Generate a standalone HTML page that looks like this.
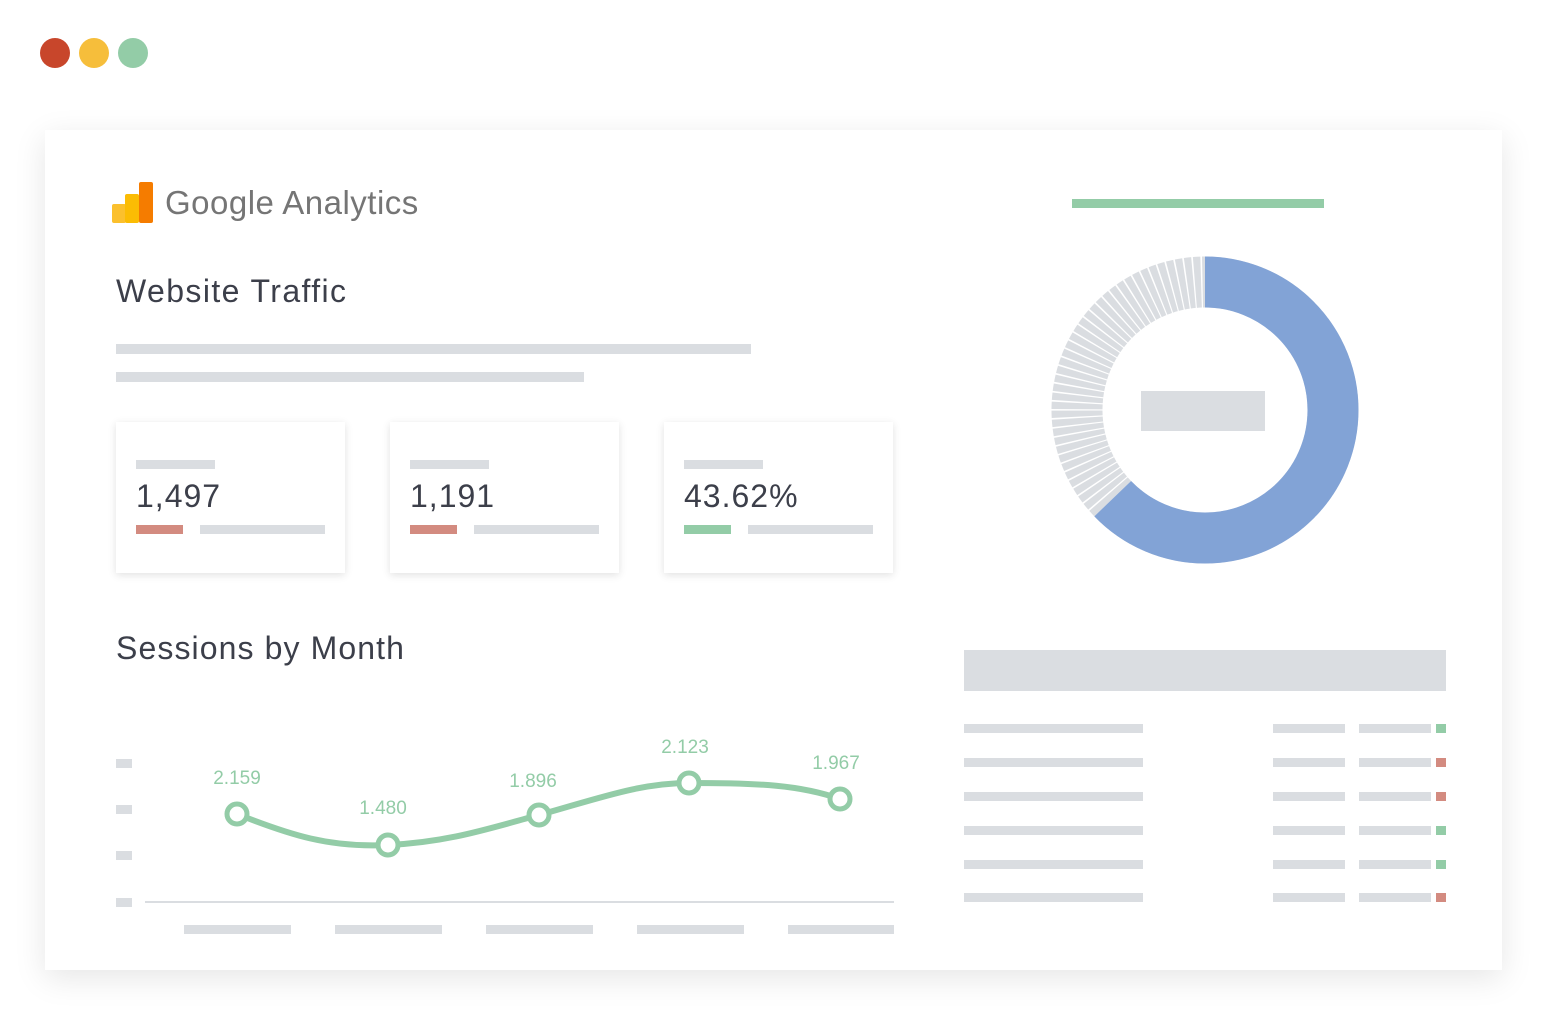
<!DOCTYPE html>
<html><head><meta charset="utf-8"><style>
body{margin:0;width:1548px;height:1025px;background:#fff;position:relative;overflow:hidden;font-family:"Liberation Sans",sans-serif}
.a{position:absolute}
.g{position:absolute;background:#dadde1}
.dot{position:absolute;width:30px;height:30px;border-radius:50%;top:38px}
.card{position:absolute;top:422px;width:229px;height:151px;background:#fff;box-shadow:0 2px 8px rgba(0,0,0,0.12)}
.card .n{position:absolute;left:20px;top:56px;font-size:32px;color:#3c3f4a;letter-spacing:1px}
</style></head><body>
<div class="dot" style="left:40px;background:#c8462b"></div>
<div class="dot" style="left:79px;background:#f6be3b"></div>
<div class="dot" style="left:118px;background:#93cca7"></div>
<div class="a" style="left:45px;top:130px;width:1457px;height:840px;background:#fff;box-shadow:0 8px 30px rgba(0,0,0,0.10)"></div>
<!-- logo -->
<div class="a" style="left:112px;top:204px;width:14px;height:19px;background:#fbc02d;border-radius:2px"></div>
<div class="a" style="left:125px;top:194px;width:14px;height:29px;background:#fbbc04;border-radius:2px"></div>
<div class="a" style="left:139px;top:182px;width:14px;height:41px;background:#f57c00;border-radius:2px"></div>
<div class="a" style="left:165px;top:184px;font-size:33px;color:#757575;letter-spacing:0.5px">Google Analytics</div>
<div class="a" style="left:116px;top:273px;font-size:32px;color:#3c3f4a;letter-spacing:1.4px">Website Traffic</div>
<div class="g" style="left:116px;top:344px;width:635px;height:10px"></div>
<div class="g" style="left:116px;top:372px;width:468px;height:10px"></div>
<div class="card" style="left:116px"><div class="g" style="left:20px;top:38px;width:79px;height:9px"></div><div class="n">1,497</div><div class="a" style="left:20px;top:103px;width:47px;height:9px;background:#d38b80"></div><div class="g" style="left:84px;top:103px;width:125px;height:9px"></div></div>
<div class="card" style="left:390px"><div class="g" style="left:20px;top:38px;width:79px;height:9px"></div><div class="n">1,191</div><div class="a" style="left:20px;top:103px;width:47px;height:9px;background:#d38b80"></div><div class="g" style="left:84px;top:103px;width:125px;height:9px"></div></div>
<div class="card" style="left:664px"><div class="g" style="left:20px;top:38px;width:79px;height:9px"></div><div class="n">43.62%</div><div class="a" style="left:20px;top:103px;width:47px;height:9px;background:#93cca7"></div><div class="g" style="left:84px;top:103px;width:125px;height:9px"></div></div>
<div class="a" style="left:116px;top:630px;font-size:32px;color:#3c3f4a;letter-spacing:1.1px">Sessions by Month</div>
<svg class="a" style="left:0;top:0" width="1548" height="1025">
<g fill="#dadde1">
<rect x="116" y="759" width="16" height="9"/><rect x="116" y="805" width="16" height="9"/><rect x="116" y="851" width="16" height="9"/><rect x="116" y="898" width="16" height="9"/>
<rect x="184" y="925" width="107" height="9"/><rect x="335" y="925" width="107" height="9"/><rect x="486" y="925" width="107" height="9"/><rect x="637" y="925" width="107" height="9"/><rect x="788" y="925" width="106" height="9"/>
</g>
<line x1="145" y1="902" x2="894" y2="902" stroke="#dadde1" stroke-width="2"/>
<path d="M237,814 C290,835 330,848 388,845 C450,842 490,828 539,815 C600,798 640,783 689,783 C760,783 800,785 840,799" fill="none" stroke="#93cca7" stroke-width="6"/>
<g fill="#fff" stroke="#93cca7" stroke-width="5">
<circle cx="237" cy="814" r="10"/><circle cx="388" cy="845" r="10"/><circle cx="539" cy="815" r="10"/><circle cx="689" cy="783" r="10"/><circle cx="840" cy="799" r="10"/></g>
<g fill="#93cca7" font-size="19" text-anchor="middle" font-family="Liberation Sans, sans-serif">
<text x="237" y="784">2.159</text><text x="383" y="814">1.480</text><text x="533" y="787">1.896</text><text x="685" y="753">2.123</text><text x="836" y="769">1.967</text></g>
<rect x="1072" y="199" width="252" height="9" fill="#93cca7"/>
<circle cx="1205" cy="410" r="128" fill="none" stroke="#dadde1" stroke-width="51" stroke-dasharray="6.2 1.4"/>
<circle cx="1205" cy="410" r="128" fill="none" stroke="#82a3d6" stroke-width="51" stroke-dasharray="505 1000" transform="rotate(-90 1205 410)"/>
<rect x="1141" y="391" width="124" height="40" fill="#dadde1"/>
<rect x="964" y="650" width="482" height="41" fill="#dadde1"/>
<g fill="#dadde1">
<rect x="964" y="724" width="179" height="9"/><rect x="1273" y="724" width="72" height="9"/><rect x="1359" y="724" width="72" height="9"/>
<rect x="964" y="758" width="179" height="9"/><rect x="1273" y="758" width="72" height="9"/><rect x="1359" y="758" width="72" height="9"/>
<rect x="964" y="792" width="179" height="9"/><rect x="1273" y="792" width="72" height="9"/><rect x="1359" y="792" width="72" height="9"/>
<rect x="964" y="826" width="179" height="9"/><rect x="1273" y="826" width="72" height="9"/><rect x="1359" y="826" width="72" height="9"/>
<rect x="964" y="860" width="179" height="9"/><rect x="1273" y="860" width="72" height="9"/><rect x="1359" y="860" width="72" height="9"/>
<rect x="964" y="893" width="179" height="9"/><rect x="1273" y="893" width="72" height="9"/><rect x="1359" y="893" width="72" height="9"/>
</g>
<rect x="1436" y="724" width="10" height="9" fill="#93cca7"/>
<rect x="1436" y="758" width="10" height="9" fill="#d38b80"/>
<rect x="1436" y="792" width="10" height="9" fill="#d38b80"/>
<rect x="1436" y="826" width="10" height="9" fill="#93cca7"/>
<rect x="1436" y="860" width="10" height="9" fill="#93cca7"/>
<rect x="1436" y="893" width="10" height="9" fill="#d38b80"/>
</svg>
</body></html>
